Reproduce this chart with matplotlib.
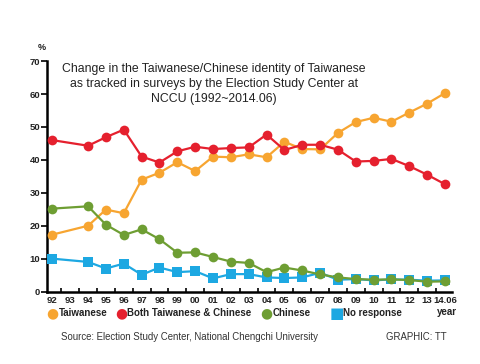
import matplotlib
matplotlib.use("Agg")
import matplotlib.pyplot as plt
import numpy as np

tick_labels = ["92", "93", "94", "95", "96", "97", "98", "99", "00", "01", "02",
               "03", "04", "05", "06", "07", "08", "09", "10", "11", "12", "13", "14.06"]
years = ["92", "94", "95", "96", "97", "98", "99", "00", "01", "02",
         "03", "04", "05", "06", "07", "08", "09", "10", "11", "12", "13", "14.06"]
taiwanese = [17.3, 20.0, 24.9, 23.8, 34.0, 36.1, 39.3, 36.6, 41.0, 40.8,
             41.7, 40.8, 45.5, 43.3, 43.2, 48.2, 51.5, 52.8, 51.6, 54.4, 57.1, 60.3]
both = [46.0, 44.3, 46.9, 49.2, 41.0, 39.2, 42.6, 44.0, 43.3, 43.6,
        43.8, 47.7, 43.0, 44.6, 44.6, 43.1, 39.5, 39.7, 40.3, 38.1, 35.5, 32.6]
chinese = [25.2, 25.9, 20.3, 17.2, 18.9, 15.9, 11.8, 11.9, 10.5, 9.1,
           8.7, 5.9, 7.3, 6.4, 5.2, 4.3, 3.8, 3.6, 3.7, 3.5, 3.0, 3.1]
no_response = [10.0, 9.0, 7.0, 8.5, 5.1, 7.3, 5.9, 6.2, 4.0, 5.3,
               5.3, 4.3, 4.1, 4.3, 5.7, 3.6, 3.8, 3.4, 3.7, 3.6, 3.3, 3.4]

series = [
    ("Taiwanese", taiwanese, "#F7A531", "o"),
    ("Both Taiwanese & Chinese", both, "#E5202E", "o"),
    ("No response", no_response, "#1DA8E2", "s"),
    ("Chinese", chinese, "#6E9E33", "o"),
]

plt.rcParams['font.family'] = ['Liberation Sans', 'DejaVu Sans']

fig = plt.figure(figsize=(4.8, 3.64), dpi=100)
ax = fig.add_axes([0.098, 0.199, 0.844, 0.633])

xpos = {lab: i for i, lab in enumerate(tick_labels)}
for name, vals, col, mk in series:
    xs = [xpos[y] for y in years]
    ax.plot(xs, vals, color=col, lw=1.6, marker=mk,
            markersize=7.2 if mk == "s" else 7, markeredgewidth=0, zorder=3)

ax.set_xlim(-0.3, 22.4)
ax.set_ylim(0, 70)
ax.set_yticks(range(0, 71, 10))
ax.set_yticklabels([str(v) for v in range(0, 71, 10)], fontsize=6.8, fontweight="bold",
                   color="#222222")
ax.set_xticks(range(len(tick_labels)))
ax.set_xticklabels(tick_labels, fontsize=6.8, fontweight="bold", color="#222222")
ax.set_xticks(np.arange(0.5, 22.5, 1.0), minor=True)
ax.tick_params(axis="x", which="major", length=0, pad=3)
ax.tick_params(axis="x", which="minor", length=3, width=1.2, direction="in")
ax.tick_params(axis="y", which="major", length=4, width=1.2, direction="out", pad=1)
for s in ["top", "right"]:
    ax.spines[s].set_visible(False)
for s in ["left", "bottom"]:
    ax.spines[s].set_linewidth(1.8)

fig.text(0.088, 0.863, "%", fontsize=6.5, fontweight="bold", ha="center", color="#222222")

fig.text(0.445, 0.712, "Change in the Taiwanese/Chinese identity of Taiwanese\n"
         "as tracked in surveys by the Election Study Center at\nNCCU (1992~2014.06)",
         ha="center", va="bottom", fontsize=8.8, linespacing=1.3, color="#222222")

labels_order = [0, 1, 3, 2]
leg_x = [0.110, 0.252, 0.554, 0.702]
for k, i in enumerate(labels_order):
    name, _, col, mk = series[i]
    fig.text(leg_x[k], 0.139, "\u25CF" if mk == "o" else "\u25A0", color=col,
             fontsize=10 if mk == "o" else 11, ha="center", va="center", family=['DejaVu Sans'])
    fig.text(leg_x[k] + 0.013, 0.139, name, fontsize=7, fontweight="bold",
             ha="left", va="center", color="#222222")

fig.text(0.932, 0.142, "year", fontsize=7, fontweight="bold", ha="center", va="center",
         color="#222222")

fig.text(0.127, 0.074, "Source: Election Study Center, National Chengchi University",
         fontsize=6.9, ha="left", va="center", color="#333333")
fig.text(0.804, 0.074, "GRAPHIC: TT", fontsize=6.9, ha="left", va="center", color="#333333")

fig.savefig("out.png", dpi=100)
